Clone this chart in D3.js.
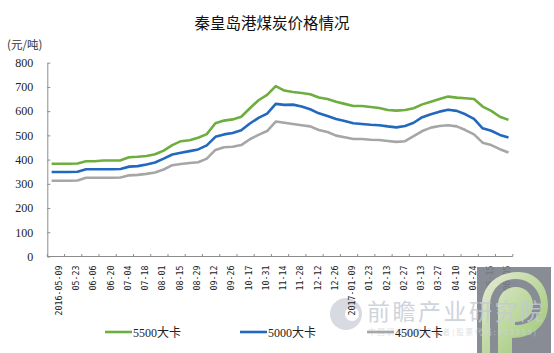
<!DOCTYPE html>
<html><head><meta charset="utf-8">
<script src="https://cdn.jsdelivr.net/npm/d3@7/dist/d3.min.js"></script>
<style>
body{margin:0;background:#fff;}
svg{display:block;}
</style></head>
<body><svg id="c" width="554" height="353"></svg>
<script>
const categories = ["2016-05-02","2016-05-09","05-16","05-23","05-30","06-06","06-13","06-20","06-27","07-04","07-11","07-18","07-25","08-01","08-08","08-15","08-22","08-29","09-05","09-12","09-19","09-26","10-10","10-17","10-24","10-31","11-07","11-14","11-21","11-28","12-05","12-12","12-19","12-26","01-03","2017-01-09","01-16","01-23","02-06","02-13","02-20","02-27","03-06","03-13","03-20","03-27","04-05","04-10","04-17","04-24","05-08","05-15","05-29","06-05"];
const tickLabels = categories.filter((d,i)=> i % 2 === 1);
const s5500 = [383,383,383,384,393,393,396,396,397,410,412,415,422,437,460,476,480,490,505,550,561,566,577,612,645,667,703,685,679,675,670,656,650,639,630,621,621,617,613,605,602,605,612,628,639,650,660,656,653,650,619,601,577,564];
const s5000 = [349,349,349,350,360,360,360,360,361,371,373,380,388,404,421,428,435,442,459,494,504,510,521,549,572,590,630,626,627,619,608,591,580,568,559,550,547,544,542,537,533,539,552,575,587,598,606,601,587,568,529,519,502,491];
const s4500 = [313,313,313,314,325,325,325,325,326,335,337,341,347,359,377,382,386,389,404,440,451,453,460,484,502,518,557,552,547,542,537,522,514,499,492,485,485,482,481,477,473,476,497,518,532,539,542,537,522,504,470,460,443,429];
const yTicks = [0,100,200,300,400,500,600,700,800];
const seriesNames = ["5500大卡","5000大卡","4500大卡"];
const colors = ["#6DAE3F","#2268BE","#A6A6A6"];

const svg = d3.select("#c");
const x = d3.scaleBand().domain(d3.range(categories.length)).range([47.3, 512.8]).paddingInner(0).paddingOuter(0);
const y = d3.scaleLinear().domain([0,800]).range([256.5, 62.7]);
const cx = i => x(i) + x.bandwidth()/2;

// watermark logo circle (behind chart)
svg.append("circle").attr("cx",346).attr("cy",314).attr("r",16).attr("fill","#c9ced5").attr("opacity",0.75);
svg.append("circle").attr("cx",352).attr("cy",314).attr("r",7).attr("fill","#ffffff");

// title
svg.append("text").attr("x",272).attr("y",29).attr("text-anchor","middle")
  .attr("font-family","'Noto Sans CJK SC',sans-serif").attr("font-size",15.5).attr("fill","#111")
  .text("秦皇岛港煤炭价格情况");
svg.append("text").attr("x",7).attr("y",49)
  .attr("font-family","'Noto Sans CJK SC',sans-serif").attr("font-size",11.5).attr("fill","#333")
  .text("(元/吨)");

// y axis
const gy = svg.append("g").attr("transform","translate(47.3,0)")
  .call(d3.axisLeft(y).tickValues(yTicks).tickSizeInner(-3).tickSizeOuter(0).tickPadding(14));
gy.select(".domain").attr("stroke","#8c8c8c");
gy.selectAll(".tick line").attr("stroke","#8c8c8c");
gy.selectAll("text").attr("font-family","'Liberation Serif',serif").attr("font-size",12).attr("fill","#222");

// x axis
const gx = svg.append("g").attr("transform","translate(0,256.5)");
gx.append("line").attr("x1",x.range()[0]).attr("x2",x.range()[1]).attr("stroke","#8c8c8c");
const tickPos = d3.range(0, categories.length+1, 2).map(i => i < categories.length ? x(i) : x.range()[1]);
gx.selectAll("line.tk").data(tickPos).join("line").attr("class","tk")
  .attr("x1",d=>d).attr("x2",d=>d).attr("y1",-2.5).attr("y2",0).attr("stroke","#8c8c8c");
const labIdx = d3.range(categories.length).filter(i => i % 2 === 1);
gx.selectAll("text").data(labIdx).join("text")
  .attr("transform", i => `translate(${cx(i)-1},9) rotate(-90)`)
  .attr("text-anchor","end").attr("dy","0.33em")
  .attr("font-family","'DejaVu Sans Mono',monospace").attr("font-size",8.3).attr("fill","#222")
  .text(i => categories[i]);

// lines
const line = d3.line().x((d,i)=>cx(i)).y(d=>y(d));
[s5500,s5000,s4500].forEach((s,k)=>{
  svg.append("path").datum(s).attr("d",line).attr("fill","none")
    .attr("stroke",colors[k]).attr("stroke-width",2.6).attr("stroke-linejoin","round");
});

// logo box (semi-opaque, over the last axis labels)
const lg = svg.append("g").attr("pointer-events","none");
lg.append("rect").attr("x",477).attr("y",267).attr("width",74).attr("height",86).attr("fill","#7b7f88").attr("opacity",0.9);
const gr = lg.append("defs").append("linearGradient").attr("id","pg").attr("x1","0").attr("y1","0").attr("x2","1").attr("y2","1");
gr.append("stop").attr("offset","0").attr("stop-color","#eef7dd");
gr.append("stop").attr("offset","1").attr("stop-color","#9ccc6a");
lg.append("path").attr("d","M482,353 L482,305 C482,285 498,272 518,272 C538,272 548,288 548,305 C548,325 532,338 512,338 L512,353 L498,353 L498,305 C498,294 506,287 516,287 C526,287 533,295 533,305 C533,315 525,322 515,322 L515,325 C530,325 541,317 541,305 C541,291 530,279 516,279 C500,279 490,291 490,305 L490,353 Z")
  .attr("fill","url(#pg)").attr("opacity",0.9);

// watermark texts
svg.append("text").attr("x",367).attr("y",320).attr("font-family","'Noto Sans CJK SC',sans-serif")
  .attr("font-size",23).attr("textLength",176).attr("fill","#c4cad3").attr("opacity",0.8).text("前瞻产业研究院");
svg.append("text").attr("x",368).attr("y",335).attr("font-family","'Noto Sans CJK SC',sans-serif")
  .attr("font-size",7.5).attr("textLength",168).attr("fill","#cfd4da").attr("opacity",0.7).text("中国研究机构领导者(股票代码:839599)");

// legend
const legX = [105,240,367];
seriesNames.forEach((n,k)=>{
  svg.append("line").attr("x1",legX[k]).attr("x2",legX[k]+27).attr("y1",332).attr("y2",332)
    .attr("stroke",colors[k]).attr("stroke-width",2.6);
  svg.append("text").attr("x",legX[k]+28).attr("y",336.5)
    .attr("font-family","'Liberation Serif','Noto Sans CJK SC',serif").attr("font-size",12).attr("fill","#222")
    .text(n);
});
</script>
</body></html>
